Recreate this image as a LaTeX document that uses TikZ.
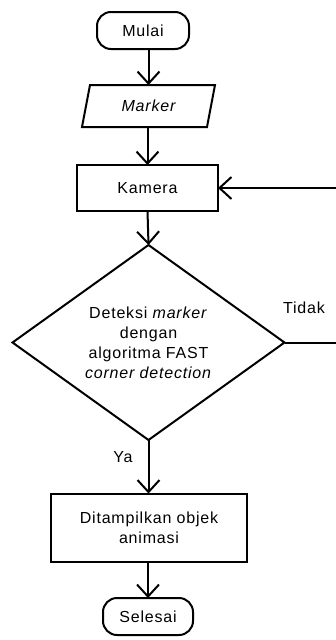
\documentclass[tikz,border=0pt]{standalone}
\usepackage{fontspec}
\setmainfont{Liberation Sans}[LetterSpace=5]
\usetikzlibrary{shapes.geometric,arrows.meta}
\begin{document}
\begin{tikzpicture}[x=1pt,y=-1pt,
  every node/.style={font=\fontsize{16}{20}\selectfont, outer sep=0pt, align=center},
  line/.style={line width=2pt},
  arr/.style={line, -{Straight Barb[length=12pt,width=22pt,line width=2pt]}},
  term/.style={draw, line width=2pt, rounded corners=14pt, minimum height=37pt, inner sep=0pt},
  procbox/.style={draw, line width=2pt, rectangle, inner sep=0pt},
  decide/.style={draw, line width=2pt, diamond, aspect=1.4, inner sep=0pt, minimum width=272pt, minimum height=195pt},
  lbl/.style={inner sep=0pt}]
\useasboundingbox (0,0) rectangle (335,640);
\node[term, minimum width=92pt] (mulai) at (143,30.5) {Mulai};
\node[minimum width=117pt, minimum height=42pt, inner sep=0pt] (marker) at (148.5,106) {\itshape Marker};
\draw[line, line join=miter] (marker.north west) -- ([xshift=8pt]marker.north east) -- (marker.south east) -- ([xshift=-8pt]marker.south west) -- cycle;
\node[procbox, minimum width=141pt, minimum height=46pt] (kamera) at (147.5,188) {Kamera};
\node[decide] (deteksi) at (148.5,342.5) {Deteksi \textit{marker}\\dengan\\algoritma FAST\\\textit{corner detection}};
\node[procbox, minimum width=196pt, minimum height=68pt] (tampil) at (149,527.5) {Ditampilkan objek\\animasi};
\node[term, minimum width=90pt] (selesai) at (148,616.5) {Selesai};
\node[lbl] (tidak) at (304,308) {Tidak};
\node[lbl] (ya) at (123,457) {Ya};
\coordinate (loopc) at (345,265);
\draw[arr] (mulai.south -| marker.north) -- (marker.north);
\draw[arr] (marker.south -| kamera.north) -- (kamera.north);
\draw[arr] (kamera.south) -- (deteksi.north);
\draw[arr] (deteksi.south) -- (tampil.north -| deteksi.south);
\draw[arr] (tampil.south -| selesai.north) -- (selesai.north);
\draw[line] (deteksi.east) -| (loopc);
\draw[arr] (loopc) |- (kamera.east);
\end{tikzpicture}
\end{document}
